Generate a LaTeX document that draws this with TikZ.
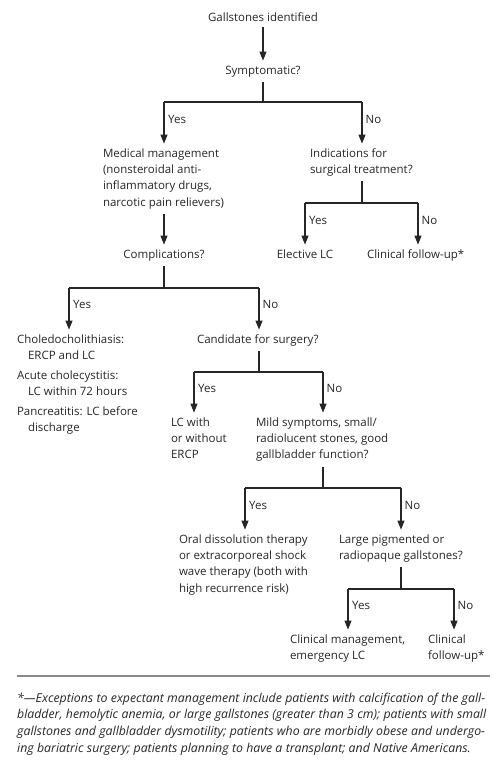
\documentclass[tikz,border=0pt]{standalone}
\usepackage{fontspec}
\setmainfont{Open Sans}
\usetikzlibrary{arrows.meta}
\definecolor{ink}{HTML}{262626}
\definecolor{rulegray}{HTML}{8A8A8A}
\begin{document}
\begin{tikzpicture}[x=1pt,y=-1pt,
  txt/.style={font=\fontsize{11.5}{16.3}\selectfont, text=ink, inner xsep=0pt, inner ysep=0pt, outer xsep=0pt, outer ysep=5pt, align=left},
  ln/.style={draw=ink, line width=1.1pt},
  arr/.style={ln, -{Triangle[length=9pt,width=7pt]}},
  yn/.style={font=\fontsize{11.5}{13}\selectfont, text=ink, inner sep=0pt, anchor=west}]
\useasboundingbox (0,0) rectangle (500,763);

% nodes
\node[txt, anchor=north] (g) at (263,7.6) {Gallstones identified};
\node[txt, anchor=north] (s) at (263,60.6) {Symptomatic?};
\node[txt, anchor=north west] (med) at (103,143.6) {Medical management\\(nonsteroidal anti-\\inflammatory drugs,\\narcotic pain relievers)};
\node[txt, anchor=north west] (ind) at (310,143.6) {Indications for\\surgical treatment?};
\node[txt, anchor=north] (el) at (305,244.6) {Elective LC};
\node[txt, anchor=north west] (cf1) at (367,244.6) {Clinical follow-up*};
\node[txt, anchor=north] (comp) at (164,244.6) {Complications?};
\node[txt, anchor=north west] (chol) at (17,329.6) {Choledocholithiasis:\\\hspace*{11pt}ERCP and LC\\[3.6pt]Acute cholecystitis:\\\hspace*{11pt}LC within 72 hours\\[3.2pt]Pancreatitis: LC before\\\hspace*{11pt}discharge};
\node[txt, anchor=north west] (cand) at (197,329.6) {Candidate for surgery?};
\node[txt, anchor=north west] (lce) at (171,412.6) {LC with\\or without\\ERCP};
\node[txt, anchor=north west] (mild) at (256,412.6) {Mild symptoms, small/\\radiolucent stones, good\\gallbladder function?};
\node[txt, anchor=north west] (oral) at (179,529.6) {Oral dissolution therapy\\or extracorporeal shock\\wave therapy (both with\\high recurrence risk)};
\node[txt, anchor=north west] (large) at (339,529.6) {Large pigmented or\\radiopaque gallstones?};
\node[txt, anchor=north west] (cm) at (290,629.6) {Clinical management,\\emergency LC};
\node[txt, anchor=north west] (cf2) at (428,629.6) {Clinical\\follow-up*};

% junctions
\coordinate (j1) at (263,102); \coordinate (j1a) at (164,102); \coordinate (j1b) at (362,102);
\coordinate (j2) at (362,203); \coordinate (j2a) at (305,203); \coordinate (j2b) at (418,203);
\coordinate (j3) at (164,288); \coordinate (j3a) at (69,288);  \coordinate (j3b) at (259,288);
\coordinate (j4) at (259,372); \coordinate (j4a) at (194,372); \coordinate (j4b) at (323,372);
\coordinate (j5) at (323,488); \coordinate (j5a) at (245,488); \coordinate (j5b) at (401,488);
\coordinate (j6) at (401,589); \coordinate (j6a) at (348,589); \coordinate (j6b) at (454,589);

% connectors
\draw[arr] (g) -- (s);
\draw[ln] (s) -- (j1);
\draw[ln] (j1a) -- (j1b);
\draw[arr] (j1a) -- (j1a |- med.north);
\draw[arr] (j1b) -- (j1b |- ind.north);

\draw[ln] (j2 |- ind.south) -- (j2);
\draw[ln] (j2a) -- (j2b);
\draw[arr] (j2a) -- (j2a |- el.north);
\draw[arr] (j2b) -- (j2b |- cf1.north);

\draw[arr] (j1a |- med.south) -- (j1a |- comp.north);

\draw[ln] (comp) -- (j3);
\draw[ln] (j3a) -- (j3b);
\draw[arr] (j3a) -- (j3a |- chol.north);
\draw[arr] (j3b) -- (j3b |- cand.north);

\draw[ln] (j4 |- cand.south) -- (j4);
\draw[ln] (j4a) -- (j4b);
\draw[arr] (j4a) -- (j4a |- lce.north);
\draw[arr] (j4b) -- (j4b |- mild.north);

\draw[ln] (j5 |- mild.south) -- (j5);
\draw[ln] (j5a) -- (j5b);
\draw[arr] (j5a) -- (j5a |- oral.north);
\draw[arr] (j5b) -- (j5b |- large.north);

\draw[ln] (j6 |- large.south) -- (j6);
\draw[ln] (j6a) -- (j6b);
\draw[arr] (j6a) -- (j6a |- cm.north);
\draw[arr] (j6b) -- (j6b |- cf2.north);

% yes / no labels
\node[yn] (y1) at (168,119) {Yes}; \node[yn] (n1) at (365.5,119) {No};
\node[yn] (y2) at (309,220) {Yes}; \node[yn] (n2) at (421.5,220) {No};
\node[yn] (y3) at (73,304) {Yes};  \node[yn] (n3) at (262.5,304) {No};
\node[yn] (y4) at (198,388) {Yes}; \node[yn] (n4) at (326.5,388) {No};
\node[yn] (y5) at (249,505) {Yes}; \node[yn] (n5) at (404.5,505) {No};
\node[yn] (y6) at (352,605) {Yes}; \node[yn] (n6) at (457.5,605) {No};

% footnote
\coordinate (r1) at (17,676); \coordinate (r2) at (490,676);
\draw[draw=rulegray, line width=2pt] (r1) -- (r2);
\node[anchor=north west, inner sep=0pt, text width=473pt, text=ink] (fn) at (17,692.6)
{\fontsize{12.3}{16.7}\selectfont\itshape
*—Exceptions to expectant management include patients with calcification of the gall-\linebreak
bladder, hemolytic anemia, or large gallstones (greater than 3~cm); patients with small\linebreak
gallstones and gallbladder dysmotility; patients who are morbidly obese and undergo-\linebreak
ing bariatric surgery; patients planning to have a transplant; and Native Americans.\par};
\end{tikzpicture}
\end{document}
